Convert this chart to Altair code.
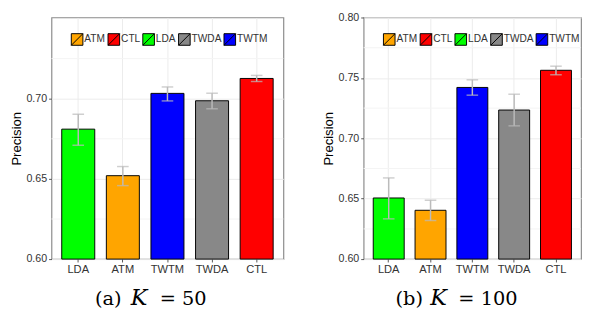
import altair as alt
import pandas as pd

cats = ["LDA", "ATM", "TWTM", "TWDA", "CTL"]
legend_order = ["ATM", "CTL", "LDA", "TWDA", "TWTM"]
legend_colors = ["#FFA500", "#FF0000", "#00FF00", "#888888", "#0000FF"]

k50_mean = [0.681, 0.652, 0.7033, 0.6987, 0.7126]
k50_lo = [0.671, 0.6458, 0.6986, 0.6937, 0.7107]
k50_hi = [0.6903, 0.6577, 0.7073, 0.7034, 0.7145]

k100_mean = [0.6506, 0.6404, 0.7421, 0.7234, 0.7563]
k100_lo = [0.6333, 0.632, 0.7357, 0.7103, 0.7526]
k100_hi = [0.6672, 0.6487, 0.7484, 0.7365, 0.7597]

k50_major = [0.60, 0.65, 0.70]
k50_minor = [0.625, 0.675, 0.725]
k100_major = [0.60, 0.65, 0.70, 0.75, 0.80]
k100_minor = [0.625, 0.675, 0.725, 0.775]

SYM = "M-1,-1H1V1H-1Z M-1,1L1,-1"
SANS = "Liberation Sans"
SERIF = "DejaVu Serif"
H = 250


def panel(mean, lo, hi, ymax, major, minor, width, caption, cap_x):
    df = pd.DataFrame({"method": cats, "mean": mean, "lo": lo, "hi": hi})
    ysc = alt.Scale(domain=[0.60, ymax], zero=False, nice=False)
    yaxis = alt.Axis(
        title="Precision", values=major, format=".2f", grid=True,
        gridColor="#EBEBEB", domain=False, tickSize=3, tickColor="#555",
        labelFontSize=11, labelFont=SANS, labelColor="#333", labelPadding=2,
        titleFont=SANS, titleFontSize=13.5, titleFontWeight="normal",
        titleColor="black", titlePadding=3,
    )
    xenc = alt.X(
        "method:N",
        sort=cats,
        scale=alt.Scale(paddingInner=0.26, paddingOuter=0.23),
        axis=alt.Axis(
            title=None, labelAngle=0, grid=True, gridColor="#EBEBEB",
            domain=False, tickSize=3, tickColor="#555", labelFontSize=11.5,
            labelFont=SANS, labelColor="#333", labelPadding=2, bandPosition=0.5,
        ),
    )
    base = alt.Chart(df)
    minor_df = pd.DataFrame({"v": minor})
    minor_rules = alt.Chart(minor_df).mark_rule(color="#F4F4F4", strokeWidth=1).encode(
        y=alt.Y("v:Q", scale=ysc, axis=yaxis)
    )
    bars = base.mark_bar(stroke="black", strokeWidth=1, opacity=1).encode(
        x=xenc,
        y=alt.Y("mean:Q", scale=ysc, axis=yaxis),
        y2=alt.datum(0.60),
        color=alt.Color(
            "method:N",
            scale=alt.Scale(domain=legend_order, range=legend_colors),
            legend=alt.Legend(
                title=None, orient="none", legendX=20, legendY=16,
                direction="horizontal", symbolType=SYM, symbolSize=144,
                symbolStrokeColor="black", symbolStrokeWidth=1, symbolOpacity=1,
                labelFont=SANS, labelFontSize=10.5, labelColor="#333",
                labelOffset=1, columnPadding=0, padding=0, gridAlign="each",
            ),
        ),
    )
    err = base.mark_rule(color="#BBBBBB", strokeWidth=1.5).encode(
        x=alt.X("method:N", sort=cats), y="lo:Q", y2="hi:Q"
    )
    cap_lo = base.mark_tick(color="#BBBBBB", size=12, thickness=1.5).encode(
        x=alt.X("method:N", sort=cats), y="lo:Q"
    )
    cap_hi = base.mark_tick(color="#BBBBBB", size=12, thickness=1.5).encode(
        x=alt.X("method:N", sort=cats), y="hi:Q"
    )
    one = alt.Data(values=[{"a": 1}])
    texts = []
    styles = ["normal", "italic", "normal"]
    sizes = [20, 23, 20]
    for piece, px, st, fs in zip(caption, cap_x, styles, sizes):
        texts.append(
            alt.Chart(one).mark_text(
                text=piece, font=SERIF, fontSize=fs, fontStyle=st,
                align="left", baseline="alphabetic", color="black",
            ).encode(x=alt.value(px), y=alt.value(298))
        )
    return alt.layer(minor_rules, bars, err, cap_lo, cap_hi, *texts).properties(
        width=width, height=H
    )


left = panel(k50_mean, k50_lo, k50_hi, 0.7506, k50_major, k50_minor, 240,
             ["(a)", "K", "= 50"], [45, 82, 112])
right = panel(k100_mean, k100_lo, k100_hi, 0.80, k100_major, k100_minor, 225,
              ["(b)", "K", "= 100"], [33, 69, 98])

chart = (
    alt.hconcat(left, right, spacing=36)
    .resolve_scale(y="independent", color="independent")
    .resolve_legend(color="independent")
    .properties(padding={"top": -2.5, "left": 0, "right": 0, "bottom": -2},
                background="white")
    .configure_view(stroke="#8a8a8a", strokeWidth=1.2)
)

chart.save("out.html", embed_options={"renderer": "svg", "actions": False})
